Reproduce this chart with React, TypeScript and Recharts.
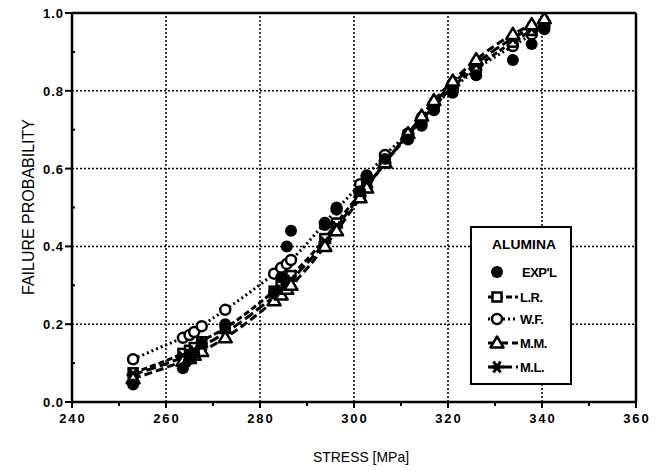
import React from "react";
import { ComposedChart, Line, XAxis, YAxis, ReferenceLine } from "recharts";

const stress = [253, 263.6, 265, 266, 267.6, 272.6, 283, 284.5, 285.7, 286.6, 293.8, 296.3, 301.3, 302.7, 306.6, 311.5, 314.4, 317, 321, 326, 333.8, 337.8, 340.5];
const expl = [0.045, 0.087, 0.11, 0.125, 0.15, 0.2, 0.28, 0.32, 0.40, 0.44, 0.455, 0.5, 0.542, 0.583, 0.625, 0.675, 0.71, 0.75, 0.795, 0.84, 0.879, 0.92, 0.958];
const lr = [0.075, 0.125, 0.133, 0.14, 0.155, 0.19, 0.285, 0.3, 0.315, 0.325, 0.42, 0.46, 0.535, 0.555, 0.615, 0.685, 0.725, 0.76, 0.81, 0.86, 0.925, 0.955, 0.97];
const wf = [0.11, 0.165, 0.172, 0.18, 0.195, 0.237, 0.33, 0.345, 0.355, 0.365, 0.46, 0.495, 0.56, 0.58, 0.635, 0.69, 0.725, 0.76, 0.805, 0.855, 0.915, 0.945, 0.965];
const mm = [0.06, 0.105, 0.112, 0.12, 0.13, 0.165, 0.26, 0.275, 0.29, 0.3, 0.4, 0.44, 0.525, 0.55, 0.615, 0.69, 0.735, 0.775, 0.825, 0.88, 0.945, 0.97, 0.985];
const ml = [0.07, 0.115, 0.122, 0.13, 0.142, 0.178, 0.272, 0.287, 0.3, 0.312, 0.41, 0.45, 0.53, 0.552, 0.615, 0.688, 0.73, 0.768, 0.818, 0.87, 0.935, 0.962, 0.978];

const xTicks = [240, 250, 260, 270, 280, 290, 300, 310, 320, 330, 340, 350, 360];
const yTicks = [0, 0.1, 0.2, 0.3, 0.4, 0.5, 0.6, 0.7, 0.8, 0.9, 1.0];
const xGrid = [260, 280, 300, 320, 340];
const yGrid = [0.2, 0.4, 0.6, 0.8];

const legendTitle = "ALUMINA";
const seriesNames = ["EXP'L", "L.R.", "W.F.", "M.M.", "M.L."];

const data = stress.map((s, i) => ({ s, expl: expl[i], lr: lr[i], wf: wf[i], mm: mm[i], ml: ml[i] }));

const FONT = "'Liberation Sans', Arial, Helvetica, sans-serif";

function Marker({ kind, cx, cy }: { kind: string; cx: number; cy: number }) {
  if (kind === "exp") return <circle cx={cx} cy={cy} r={6} fill="#000" />;
  if (kind === "square")
    return <rect x={cx - 4.5} y={cy - 4.5} width={9} height={9} fill="#fff" stroke="#000" strokeWidth={2.5} />;
  if (kind === "circle") return <circle cx={cx} cy={cy} r={5} fill="#fff" stroke="#000" strokeWidth={2.5} />;
  if (kind === "tri")
    return (
      <polygon
        points={`${cx},${cy - 6.5} ${cx - 6.5},${cy + 4.5} ${cx + 6.5},${cy + 4.5}`}
        fill="#fff"
        stroke="#000"
        strokeWidth={2.5}
        strokeLinejoin="round"
      />
    );
  return (
    <g>
      <line x1={cx - 6.5} y1={cy} x2={cx + 6.5} y2={cy} stroke="#000" strokeWidth={3} />
      <line x1={cx - 3.5} y1={cy - 5.5} x2={cx + 3.5} y2={cy + 5.5} stroke="#000" strokeWidth={3} />
      <line x1={cx - 3.5} y1={cy + 5.5} x2={cx + 3.5} y2={cy - 5.5} stroke="#000" strokeWidth={3} />
      <circle cx={cx} cy={cy} r={3.5} fill="#000" />
    </g>
  );
}

const makeDot = (kind: string) => (p: any) => {
  const { cx, cy, index } = p;
  if (cx == null || cy == null) return <g key={`${kind}-${index}`} />;
  return <Marker key={`${kind}-${index}`} kind={kind} cx={cx} cy={cy} />;
};

function XTick(props: any) {
  const { x, y, payload } = props;
  const v = payload.value;
  const major = v % 20 === 0;
  return (
    <g>
      <line x1={x} y1={y} x2={x} y2={y + (major ? 6 : 4)} stroke="#000" strokeWidth={2} />
      {major ? (
        <text x={x + 1} y={y + 21} textAnchor="middle" fontFamily={FONT} fontWeight="bold" fontSize={13} letterSpacing={2} fill="#000">
          {v}
        </text>
      ) : null}
    </g>
  );
}

function YTick(props: any) {
  const { x, y, payload } = props;
  const v = payload.value;
  const major = Math.round(v * 10) % 2 === 0;
  return (
    <g>
      {major ? (
        <line x1={x - 7} y1={y} x2={x} y2={y} stroke="#000" strokeWidth={2} />
      ) : (
        <line x1={x} y1={y} x2={x + 3} y2={y} stroke="#000" strokeWidth={2} />
      )}
      {major ? (
        <text x={x - 8} y={y + 5} textAnchor="end" fontFamily={FONT} fontWeight="bold" fontSize={13} letterSpacing={1} fill="#000">
          {v.toFixed(1)}
        </text>
      ) : null}
    </g>
  );
}

function LegendBox() {
  const kinds = ["exp", "square", "circle", "tri", "star"];
  const dashes = ["", "6 3", "2 3", "8 4", "10 4"];
  const rows = [46, 71, 93, 117, 141];
  return (
    <div
      style={{
        position: "absolute",
        left: 462,
        top: 223,
        width: 102,
        height: 159,
        border: "2px solid #000",
        background: "#fff",
        boxSizing: "border-box",
      }}
    >
      <svg width={98} height={155} style={{ position: "absolute", left: 0, top: 0 }}>
        <text x={52} y={21} textAnchor="middle" fontFamily={FONT} fontWeight="bold" fontSize={13} textLength={64} lengthAdjust="spacingAndGlyphs" fill="#000">
          {legendTitle}
        </text>
        {kinds.map((k, i) => (
          <g key={k}>
            {i > 0 ? (
              <line x1={16} y1={rows[i] - 2} x2={46} y2={rows[i] - 2} stroke="#000" strokeWidth={3} strokeDasharray={dashes[i]} />
            ) : null}
            <Marker kind={k} cx={25} cy={rows[i] - 2} />
            <text x={i === 0 ? 50 : 48} y={rows[i] + 3} fontFamily={FONT} fontWeight="bold" fontSize={13} letterSpacing={-0.5} fill="#000">
              {seriesNames[i]}
            </text>
          </g>
        ))}
      </svg>
    </div>
  );
}

export default function App() {
  return (
    <div style={{ position: "relative", width: 650, height: 462, marginTop: -5, background: "#fff" }}>
      <ComposedChart width={650} height={462} data={data} margin={{ top: 10, right: 22, bottom: 33, left: 0 }}>
        <XAxis
          dataKey="s"
          type="number"
          domain={[240, 360]}
          ticks={xTicks}
          interval={0}
          tick={(p: any) => <XTick {...p} />}
          tickLine={false}
          tickSize={0}
          tickMargin={0}
          height={30}
          axisLine={{ stroke: "#000", strokeWidth: 2.5 }}
          allowDataOverflow
          label={{
            content: () => (
              <text x={353} y={459} textAnchor="middle" fontFamily={FONT} fontSize={15} textLength={96} lengthAdjust="spacingAndGlyphs" fill="#000">
                STRESS [MPa]
              </text>
            ),
          }}
        />
        <YAxis
          type="number"
          domain={[0, 1]}
          ticks={yTicks}
          interval={0}
          width={64}
          tick={(p: any) => <YTick {...p} />}
          tickLine={false}
          tickSize={0}
          tickMargin={0}
          axisLine={{ stroke: "#000", strokeWidth: 2.5 }}
          allowDataOverflow
          label={{
            content: () => (
              <text x={22} y={204} transform="rotate(-90 22 204)" textAnchor="middle" dominantBaseline="middle" fontFamily={FONT} fontSize={16} textLength={176} lengthAdjust="spacingAndGlyphs" fill="#000">
                FAILURE PROBABILITY
              </text>
            ),
          }}
        />
        {xGrid.map((v) => (
          <ReferenceLine key={`gx${v}`} x={v} stroke="#000" strokeWidth={1.5} strokeDasharray="2 2" />
        ))}
        {yGrid.map((v) => (
          <ReferenceLine key={`gy${v}`} y={v} stroke="#000" strokeWidth={1.5} strokeDasharray="2 2" />
        ))}
        <ReferenceLine y={1} stroke="#000" strokeWidth={2.5} />
        <ReferenceLine x={360} stroke="#000" strokeWidth={2.5} />
        <Line dataKey="wf" type="monotone" stroke="#000" strokeWidth={3} strokeDasharray="2 3" dot={makeDot("circle")} isAnimationActive={false} />
        <Line dataKey="lr" type="monotone" stroke="#000" strokeWidth={3} strokeDasharray="6 3" dot={makeDot("square")} isAnimationActive={false} />
        <Line dataKey="ml" type="monotone" stroke="#000" strokeWidth={3} strokeDasharray="10 4" dot={makeDot("star")} isAnimationActive={false} />
        <Line dataKey="mm" type="monotone" stroke="#000" strokeWidth={3} strokeDasharray="8 4" dot={makeDot("tri")} isAnimationActive={false} />
        <Line dataKey="expl" type="monotone" stroke="none" dot={makeDot("exp")} isAnimationActive={false} />
      </ComposedChart>
      <LegendBox />
    </div>
  );
}
